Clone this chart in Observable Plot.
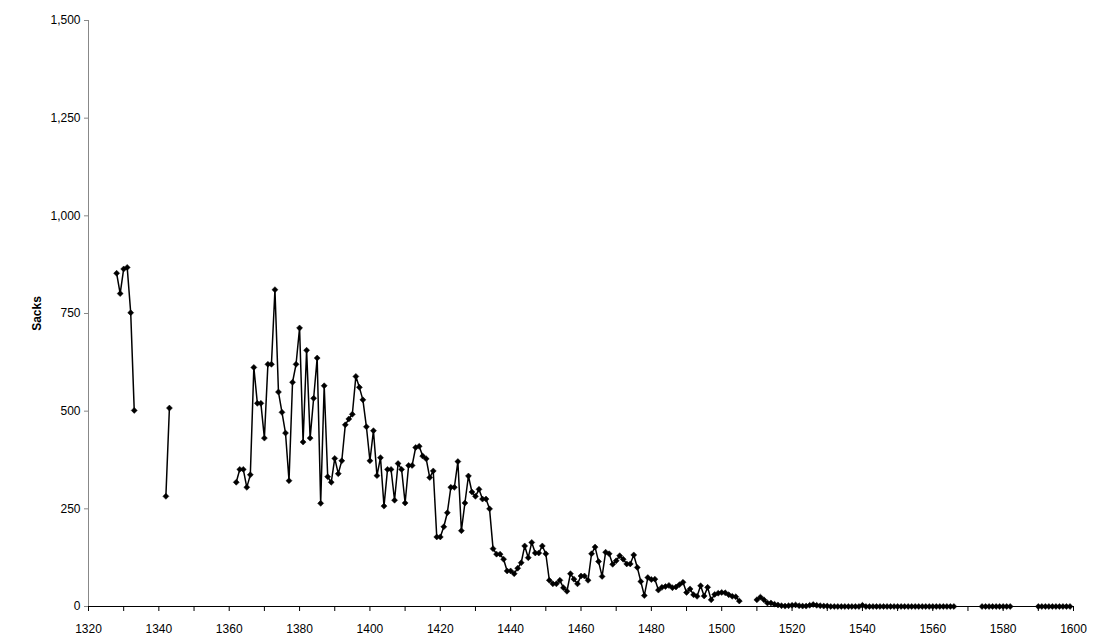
<!DOCTYPE html>
<html>
<head>
<meta charset="utf-8">
<script src="https://cdn.jsdelivr.net/npm/d3@7"></script>
<script src="https://cdn.jsdelivr.net/npm/@observablehq/plot@0.6"></script>
<style>
  html, body { margin: 0; padding: 0; background: #fff; }
  #chart svg { display: block; }
</style>
</head>
<body>
<div id="chart"></div>
<script>
// Each run of consecutive years starts at the given year
const segmentStarts = [1328, 1342, 1362, 1510, 1574, 1590];
const segment1 = [853, 801, 864, 868, 752, 502];
const segment2 = [282, 508];
const segment3 = [
  318,351,351,305,337,612,520,520,431,620,
  620,811,549,497,444,322,574,620,713,421,
  656,431,533,636,264,565,332,318,379,340,
  373,465,480,492,589,561,529,460,373,450,
  335,381,257,351,351,272,366,351,265,361,
  361,407,410,385,378,330,347,178,178,204,
  240,305,305,371,194,265,334,293,282,300,
  275,275,250,148,134,134,121,91,91,84,
  98,112,155,125,164,137,137,155,135,67,
  58,58,67,48,39,84,70,58,78,78,
  67,135,152,115,77,139,135,108,117,130,
  121,109,109,132,100,64,28,74,69,70,
  42,49,51,54,48,50,56,62,36,45,
  30,26,53,27,49,17,31,34,36,35,
  30,26,25,14
];
const segment4 = [
  17,24,17,9,9,6,4,2,1,2,
  3,4,2,1,1,3,5,3,2,1,
  1,0,0,0,0,0,0,0,0,0,
  3,0,0,0,0,0,0,0,0,0,
  0,0,0,0,0,0,0,0,0,0,
  0,0,0,0,0,0,0
];
const segment5 = [0,0,0,0,0,0,0,0,0];
const segment6 = [0,0,0,0,0,0,0,0,0,0];
const segments = [segment1, segment2, segment3, segment4, segment5, segment6];

const xTicks = d3.range(1320, 1601, 10);
const yTicks = [0, 250, 500, 750, 1000, 1250, 1500];

const data = segments.flatMap((vals, s) =>
  vals.map((v, i) => ({year: segmentStarts[s] + i, sacks: v, seg: s}))
);

const font = "Arial, 'Liberation Sans', sans-serif";

const chart = Plot.plot({
  width: 1104,
  height: 644,
  marginLeft: 88,
  marginRight: 31,
  marginTop: 20,
  marginBottom: 38,
  style: {fontFamily: font, fontSize: "12px", color: "#000", background: "#fff"},
  x: {domain: [1320, 1600]},
  y: {domain: [0, 1500]},
  marks: [
    Plot.axisY({
      ticks: yTicks, tickSize: 4, tickPadding: 4, tickFormat: d3.format(","),
      stroke: "#888", strokeOpacity: 1,
      label: "Sacks", labelAnchor: "center", labelArrow: "none", labelOffset: 56,
      fontSize: 12
    }),
    Plot.axisX({
      ticks: xTicks, tickSize: 5, tickPadding: 13, stroke: "#000", strokeOpacity: 1,
      tickFormat: d => d % 20 === 0 ? String(d) : "", label: null, fontSize: 12
    }),
    Plot.ruleX([1320], {stroke: "#888", strokeWidth: 1}),
    Plot.ruleY([0], {stroke: "#000", strokeWidth: 1}),
    Plot.line(data, {x: "year", y: "sacks", z: "seg", stroke: "#000", strokeWidth: 1.5}),
    Plot.dot(data, {x: "year", y: "sacks", symbol: "diamond2", r: 2.7, fill: "#000", stroke: "#000", strokeWidth: 0.5})
  ]
});

// bold axis title
d3.select(chart).selectAll("[aria-label='y-axis label'] text").attr("font-weight", "bold");
document.getElementById("chart").appendChild(chart);
</script>
</body>
</html>
